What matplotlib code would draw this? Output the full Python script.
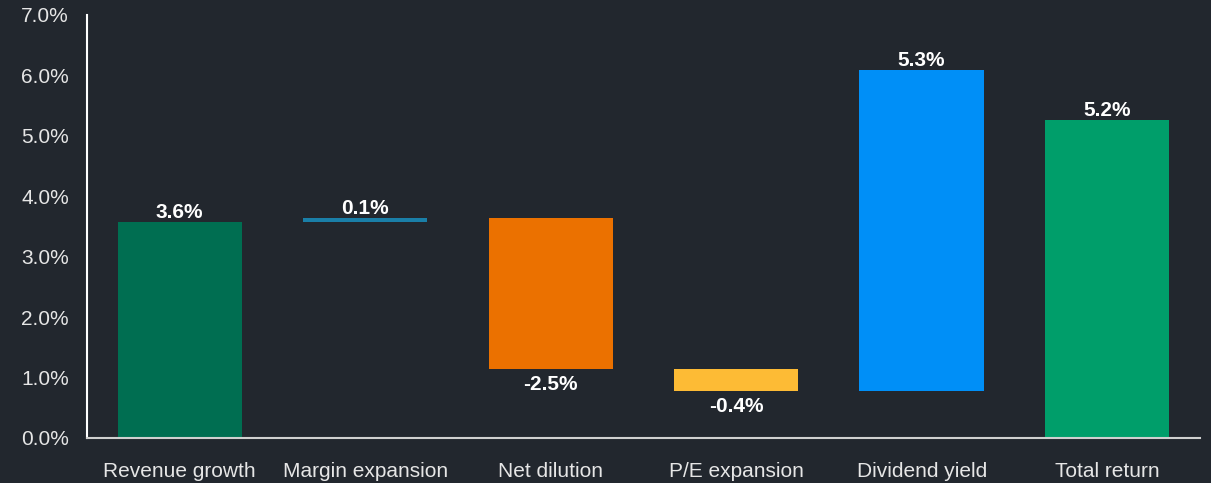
import numpy as np
import matplotlib.pyplot as plt

plt.rcParams['font.family'] = ['Liberation Sans', 'DejaVu Sans']

# categories and values (percent)
categories = ["Revenue growth", "Margin expansion", "Net dilution",
              "P/E expansion", "Dividend yield", "Total return"]
changes = [3.58, 0.06, -2.50, -0.36, 5.30]
total = 5.26
labels = ["3.6%", "0.1%", "-2.5%", "-0.4%", "5.3%", "5.2%"]
colors = ["#006e51", "#1a7fa8", "#eb7100", "#fdbb35", "#008ff7", "#009e6a"]

bg = "#22272e"

# waterfall bottoms/heights
cum = np.concatenate([[0], np.cumsum(changes)])
bottoms = list(cum[:-1]) + [0]
heights = list(changes) + [total]

fig = plt.figure(figsize=(12.11, 4.83), dpi=100, facecolor=bg)
ax = fig.add_axes([0.0718, 0.0932, 0.919, 0.876])
ax.set_facecolor(bg)

x = np.arange(len(categories))
ax.bar(x, heights, bottom=bottoms, width=0.67, color=colors)

for i in range(len(categories)):
    b, h = bottoms[i], heights[i]
    if h >= 0:
        ax.text(x[i], b + h + 0.0, labels[i], ha='center', va='bottom',
                color='white', fontsize=15, fontweight='bold')
    else:
        ax.text(x[i], b + h - 0.1, labels[i], ha='center', va='top',
                color='white', fontsize=15, fontweight='bold')

ax.set_xlim(-0.5, 5.5)
ax.set_ylim(0, 7)
ax.set_yticks(np.arange(0, 7.5, 1))
ax.set_yticklabels([f"{v:.1f}%" for v in np.arange(0, 7.5, 1)])
ax.set_xticks(x)
ax.set_xticklabels(categories)
ax.tick_params(colors='#e6e6e6', labelsize=15, length=0)
ax.tick_params(axis='x', pad=17)
ax.tick_params(axis='y', pad=13)

for s in ['top', 'right']:
    ax.spines[s].set_visible(False)
ax.spines['left'].set_color('white')
ax.spines['bottom'].set_color('#d0d0d0')
ax.spines['left'].set_linewidth(1.5)
ax.spines['bottom'].set_linewidth(1.5)

fig.savefig("out.png", dpi=100, facecolor=bg)
